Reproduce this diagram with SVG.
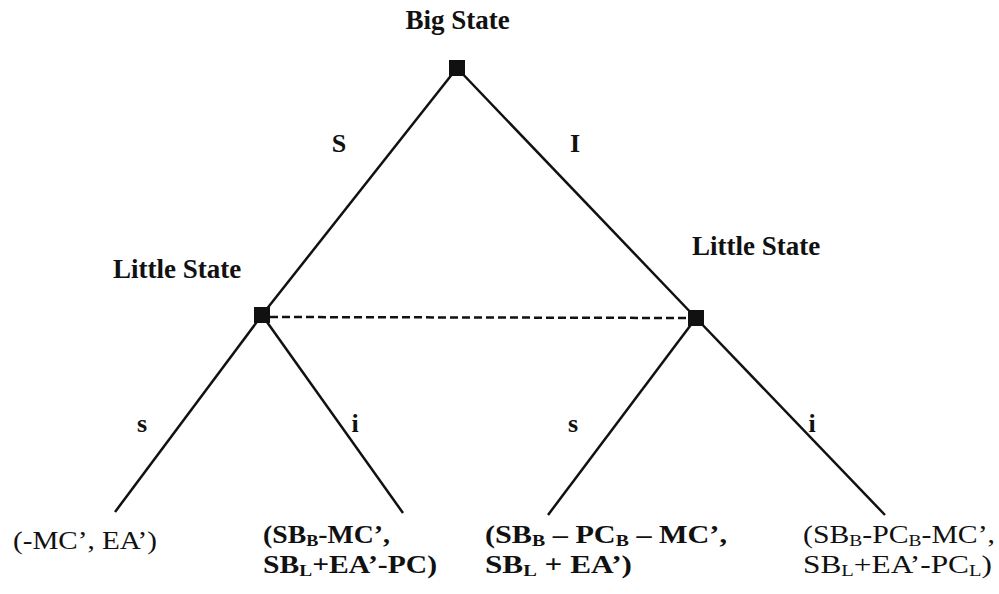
<svg xmlns="http://www.w3.org/2000/svg" width="999" height="594" viewBox="0 0 999 594">
<style>
  .t { font-family: "Liberation Serif", "Times New Roman", serif; font-size: 26px; fill: #111; }
  .h { font-family: "Liberation Serif", "Times New Roman", serif; font-size: 27px; font-weight: bold; fill: #111; }
  .b { font-weight: bold; }
  .sub { font-size: 17px; }
  .edge { stroke: #111; stroke-width: 2.5; fill: none; }
  .dash { stroke: #111; stroke-width: 2.5; stroke-dasharray: 8 4; fill: none; }
  .node { fill: #111; }
  .lbl { font-family: "Liberation Serif", "Times New Roman", serif; font-size: 26px; font-weight: bold; fill: #111; }
</style>
<rect width="999" height="594" fill="#ffffff"/>
<g id="connectors">
  <line class="edge" x1="457" y1="68" x2="262" y2="315"/>
  <line class="edge" x1="457" y1="68" x2="696" y2="318"/>
  <line class="edge" x1="262" y1="315" x2="115" y2="512"/>
  <line class="edge" x1="262" y1="315" x2="403" y2="513"/>
  <line class="edge" x1="696" y1="318" x2="548" y2="515"/>
  <line class="edge" x1="696" y1="318" x2="885" y2="515"/>
  <line class="dash" x1="270" y1="317" x2="688" y2="318"/>
  <text class="lbl" x="339" y="152" text-anchor="middle">S</text>
  <text class="lbl" x="575" y="152" text-anchor="middle">I</text>
  <text class="lbl" x="142" y="432" text-anchor="middle">s</text>
  <text class="lbl" x="355" y="432" text-anchor="middle">i</text>
  <text class="lbl" x="573" y="432" text-anchor="middle">s</text>
  <text class="lbl" x="812" y="432" text-anchor="middle">i</text>
</g>
<g id="big-state">
  <rect class="node" x="449" y="60" width="16" height="16"/>
  <text class="h" x="457.5" y="29" text-anchor="middle">Big State</text>
</g>
<g id="little-state-left">
  <rect class="node" x="254" y="307" width="16" height="16"/>
  <text class="h" x="113" y="278">Little State</text>
</g>
<g id="little-state-right">
  <rect class="node" x="688" y="310" width="16" height="16"/>
  <text class="h" x="692" y="255">Little State</text>
</g>
<g id="payoff-1">
  <text class="t" x="13" y="549" textLength="144" lengthAdjust="spacingAndGlyphs">(-MC’, EA’)</text>
</g>
<g id="payoff-2">
  <text class="t b" x="263" y="543" textLength="127" lengthAdjust="spacingAndGlyphs">(SB<tspan class="sub" dy="3">B</tspan><tspan dy="-3">-MC’,</tspan></text>
  <text class="t b" x="263" y="573" textLength="174" lengthAdjust="spacingAndGlyphs">SB<tspan class="sub" dy="3">L</tspan><tspan dy="-3">+EA’-PC)</tspan></text>
</g>
<g id="payoff-3">
  <text class="t b" x="485" y="543" textLength="242" lengthAdjust="spacingAndGlyphs">(SB<tspan class="sub" dy="3">B</tspan><tspan dy="-3"> – PC</tspan><tspan class="sub" dy="3">B</tspan><tspan dy="-3"> – MC’,</tspan></text>
  <text class="t b" x="485" y="573" textLength="147" lengthAdjust="spacingAndGlyphs">SB<tspan class="sub" dy="3">L</tspan><tspan dy="-3"> + EA’)</tspan></text>
</g>
<g id="payoff-4">
  <text class="t" x="803" y="543" textLength="192" lengthAdjust="spacingAndGlyphs">(SB<tspan class="sub" dy="3">B</tspan><tspan dy="-3">-PC</tspan><tspan class="sub" dy="3">B</tspan><tspan dy="-3">-MC’,</tspan></text>
  <text class="t" x="803" y="573" textLength="189" lengthAdjust="spacingAndGlyphs">SB<tspan class="sub" dy="3">L</tspan><tspan dy="-3">+EA’-PC</tspan><tspan class="sub" dy="3">L</tspan><tspan dy="-3">)</tspan></text>
</g>
</svg>
